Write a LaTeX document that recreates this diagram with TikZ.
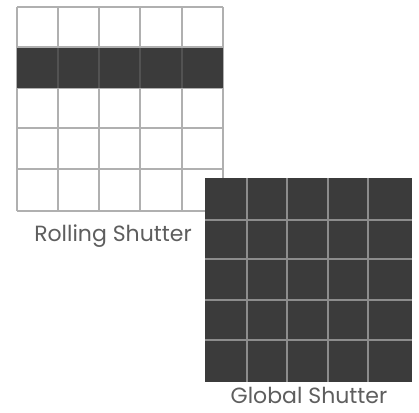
\documentclass[tikz,border=0pt]{standalone}
\usepackage{fontspec}
\setmainfont{Poppins}
\definecolor{cellgray}{HTML}{3B3B3B}
\definecolor{linegray}{HTML}{B0B0B0}
\definecolor{darkline}{HTML}{525252}
\definecolor{gline}{HTML}{8C8C8C}
\definecolor{txtgray}{HTML}{5E5E5E}
\tikzset{
  rgrid/.style={draw=linegray, line width=1.8pt},
  ggrid/.style={draw=gline, line width=1.1pt},
  caption/.style={text=txtgray, font=\fontsize{22}{26}\selectfont, inner sep=0pt, anchor=base}
}
\begin{document}
\begin{tikzpicture}[x=1pt,y=-1pt]
\useasboundingbox (0,0) rectangle (419,412);
% rolling shutter grid
\fill[white] (17,7) rectangle (223,211);
\foreach \x in {17,58,99,140,182,223} \draw[rgrid] (\x,7) -- (\x,211);
\foreach \y in {7,47,88,128,169,211} \draw[rgrid] (17,\y) -- (223,\y);
\fill[cellgray] (17,48) rectangle (223,88);
\foreach \x in {58,99,140,182} \draw[draw=darkline, line width=1.2pt] (\x,48) -- (\x,88);
\node[caption] (rolling) at (113,241) {Rolling Shutter};
% global shutter grid
\fill[cellgray] (205,178) rectangle (412,382);
\foreach \x in {247,287,328,368} \draw[ggrid] (\x,178) -- (\x,382);
\foreach \y in {220,259,300,340} \draw[ggrid] (205,\y) -- (412,\y);
\node[caption] (global) at (309,403) {Global Shutter};
\end{tikzpicture}
\end{document}
